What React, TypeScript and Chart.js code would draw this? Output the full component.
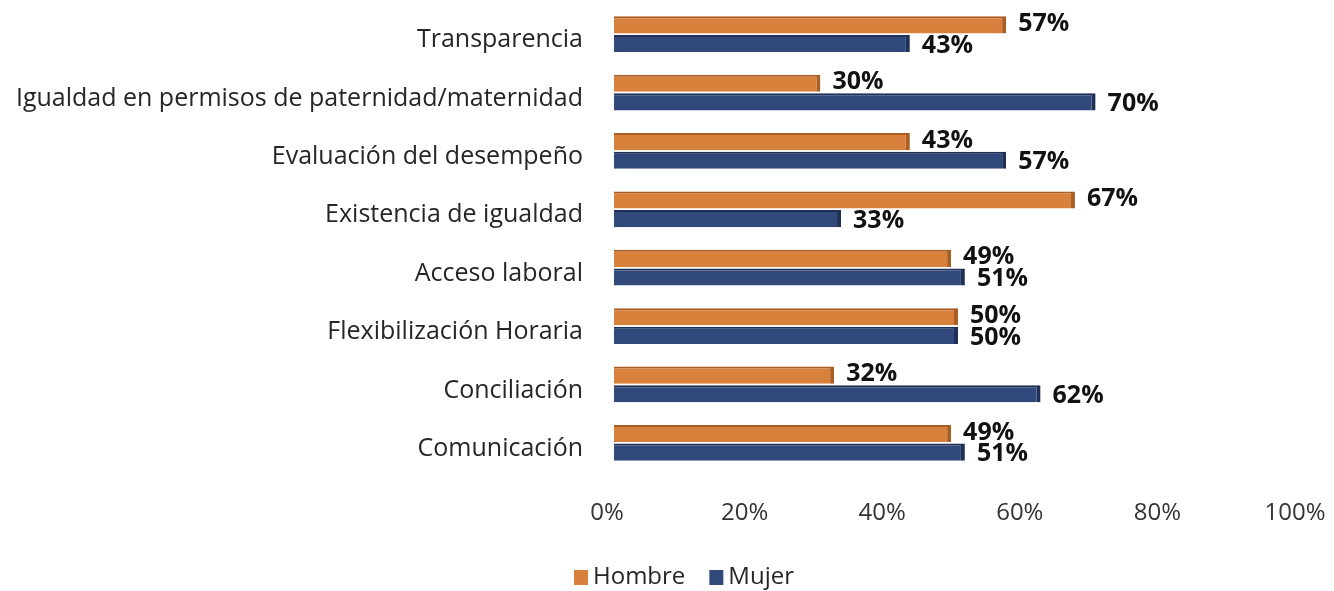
import React, { useEffect, useRef } from "react";
import { Chart, registerables } from "chart.js";

Chart.register(...registerables);

const categories = [
  "Transparencia",
  "Igualdad en permisos de paternidad/maternidad",
  "Evaluación del desempeño",
  "Existencia de igualdad",
  "Acceso laboral",
  "Flexibilización Horaria",
  "Conciliación",
  "Comunicación",
];
const hombre = [57, 30, 43, 67, 49, 50, 32, 49];
const mujer = [43, 70, 57, 33, 51, 50, 62, 51];
const xTicks = [0, 20, 40, 60, 80, 100];

const ORANGE = "#D8813C";
const ORANGE_DARK = "#A95E24";
const BLUE = "#30497A";
const BLUE_DARK = "#1E3058";
const FONT = "'Open Sans', sans-serif";
const TEXT = "#262626";

const labelPlugin = {
  id: "barLabels",
  afterDatasetsDraw(chart: any) {
    const ctx = chart.ctx;
    ctx.save();
    ctx.font = `bold 25px ${FONT}`;
    ctx.fillStyle = "#111111";
    ctx.textAlign = "left";
    ctx.textBaseline = "middle";
    chart.data.datasets.forEach((ds: any, di: number) => {
      const meta = chart.getDatasetMeta(di);
      const dy = di === 0 ? -1 : 2;
      meta.data.forEach((bar: any, i: number) => {
        const v = ds.data[i];
        ctx.fillText(`${v}%`, bar.x + 12, bar.y + dy);
      });
    });
    ctx.restore();
  },
};

const legendPlugin = {
  id: "customLegend",
  afterDraw(chart: any) {
    const ctx = chart.ctx;
    ctx.save();
    ctx.font = `24px ${FONT}`;
    ctx.textBaseline = "middle";
    ctx.textAlign = "left";
    const box = 14;
    const gapBox = 5;
    const gapItem = 24;
    const items = chart.data.datasets.map((ds: any) => ({
      label: ds.label,
      color: ds.backgroundColor,
      w: ctx.measureText(ds.label).width,
    }));
    const total =
      items.reduce((s: number, it: any) => s + box + gapBox + it.w, 0) + gapItem * (items.length - 1);
    let x = chart.width / 2 + 17 - total / 2;
    const y = 577;
    items.forEach((it: any) => {
      ctx.fillStyle = it.color;
      ctx.fillRect(x, y - 7, box, 15);
      x += box + gapBox;
      ctx.fillStyle = TEXT;
      ctx.fillText(it.label, x, y);
      x += it.w + gapItem;
    });
    ctx.restore();
  },
};

export default function App() {
  const ref = useRef<HTMLCanvasElement | null>(null);
  useEffect(() => {
    if (!ref.current) return;
    const chart = new Chart(ref.current, {
      type: "bar",
      data: {
        labels: categories,
        datasets: [
          {
            label: "Hombre",
            data: hombre,
            backgroundColor: ORANGE,
            borderColor: ORANGE_DARK,
            borderWidth: { top: 2, right: 4, bottom: 0, left: 0 },
            borderSkipped: false,
            categoryPercentage: 0.64,
            barPercentage: 0.92,
          },
          {
            label: "Mujer",
            data: mujer,
            backgroundColor: BLUE,
            borderColor: BLUE_DARK,
            borderWidth: { top: 2, right: 4, bottom: 0, left: 0 },
            borderSkipped: false,
            categoryPercentage: 0.64,
            barPercentage: 0.92,
          },
        ],
      },
      options: {
        indexAxis: "y",
        animation: false,
        responsive: false,
        maintainAspectRatio: false,
        layout: { padding: { left: 0, right: 32, top: 5, bottom: 63 } },
        scales: {
          x: {
            min: 0,
            max: 100,
            afterBuildTicks(scale: any) {
              scale.ticks = xTicks.map((v) => ({ value: v }));
            },
            afterFit(scale: any) {
              scale.height = 56;
              scale.paddingLeft = 0;
              scale.paddingRight = 0;
            },
            grid: { display: false, drawTicks: false },
            border: { display: false },
            ticks: {
              padding: 27,
              maxRotation: 0,
              labelOffset: -7,
              color: "#333333",
              font: { family: FONT, size: 24 },
              callback: (v: any) => `${v}%`,
            },
          },
          y: {
            grid: { display: false, drawTicks: false },
            border: { display: false },
            afterFit(scale: any) {
              scale.width = 614;
              scale.paddingTop = 0;
              scale.paddingBottom = 0;
            },
            ticks: {
              padding: 31,
              labelOffset: 6,
              color: TEXT,
              font: { family: FONT, size: 25 },
            },
          },
        },
        plugins: {
          legend: { display: false },
          tooltip: { enabled: false },
        },
      },
      plugins: [labelPlugin, legendPlugin],
    });
    return () => chart.destroy();
  }, []);
  return (
    <div style={{ position: "fixed", left: 0, top: 0, width: 1334, height: 591, background: "#fff" }}>
      <canvas ref={ref} width={1334} height={591} style={{ width: 1334, height: 591 }} />
    </div>
  );
}
